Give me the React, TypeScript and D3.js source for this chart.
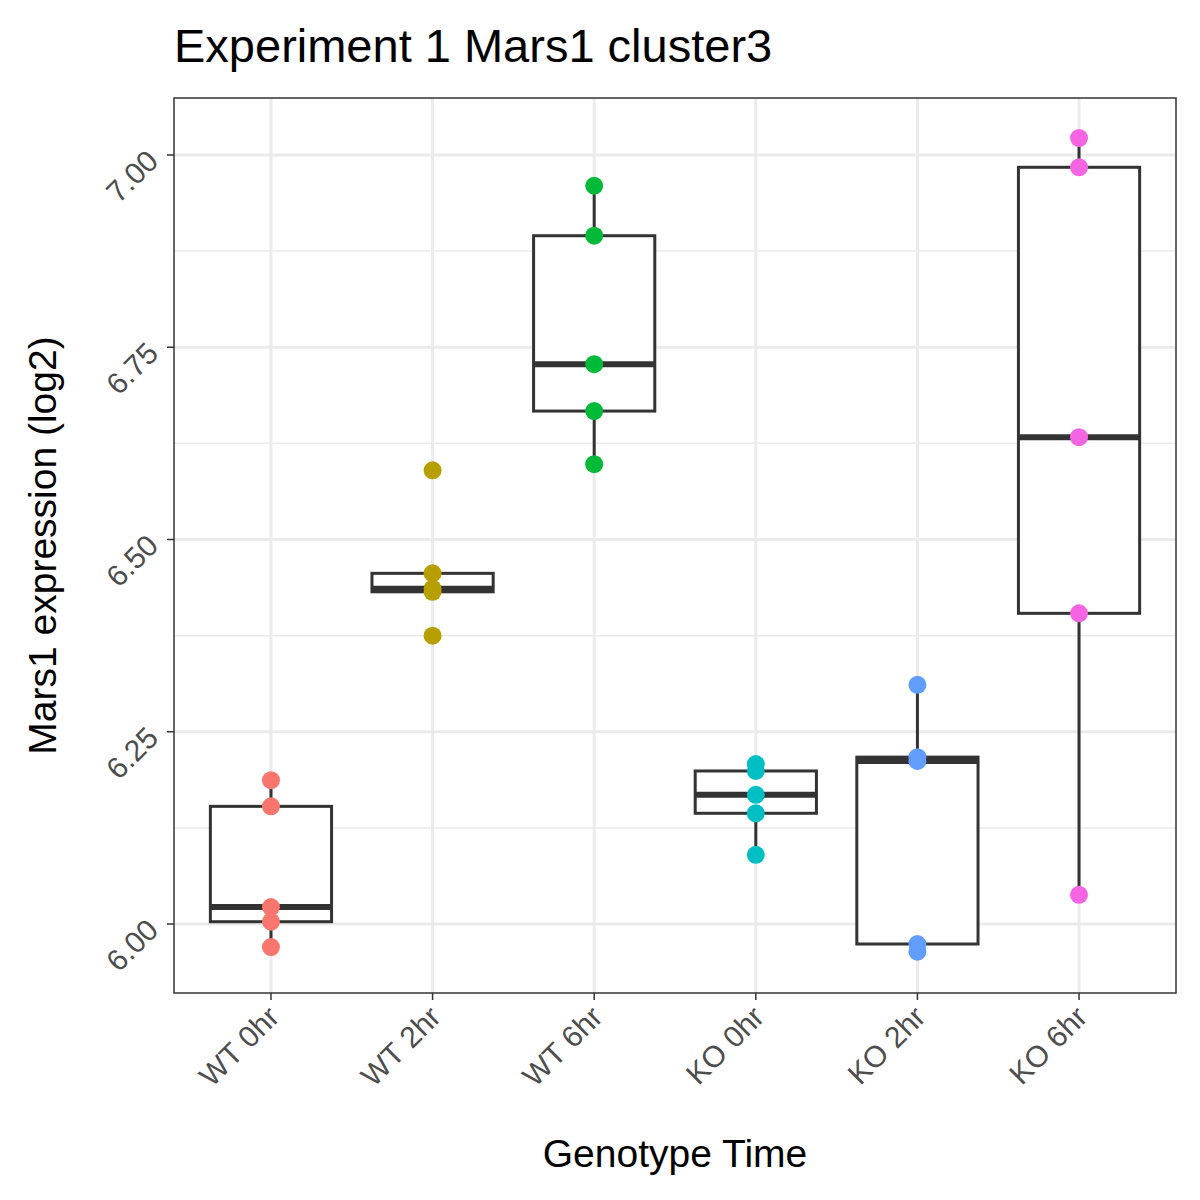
import * as d3 from "d3";

const groups = ["WT 0hr", "WT 2hr", "WT 6hr", "KO 0hr", "KO 2hr", "KO 6hr"];
const colors = ["#F8766D", "#B79F00", "#00BA38", "#00BFC4", "#619CFF", "#F564E3"];
const values = [
  [6.187, 6.153, 6.022, 6.003, 5.970],
  [6.590, 6.456, 6.436, 6.432, 6.375],
  [6.960, 6.895, 6.728, 6.667, 6.598],
  [6.208, 6.199, 6.168, 6.144, 6.090],
  [6.311, 6.217, 6.212, 5.974, 5.964],
  [7.022, 6.984, 6.633, 6.404, 6.038],
];
const yTicks = [6.0, 6.25, 6.5, 6.75, 7.0];
const yMinor = [6.125, 6.375, 6.625, 6.875];

const W = 1200, H = 1200;
const m = { left: 174, right: 24, top: 98, bottom: 207 };

function stats(v: number[]) {
  const s = [...v].sort(d3.ascending);
  const q1 = d3.quantile(s, 0.25)!, med = d3.quantile(s, 0.5)!, q3 = d3.quantile(s, 0.75)!;
  const iqr = q3 - q1;
  const lo = d3.min(s.filter((d) => d >= q1 - 1.5 * iqr))!;
  const hi = d3.max(s.filter((d) => d <= q3 + 1.5 * iqr))!;
  return { q1, med, q3, lo, hi };
}

export default function App() {
  const x = d3.scalePoint().domain(groups).range([m.left, W - m.right]).padding(0.6);
  const y = d3.scaleLinear().domain([5.9103, 7.0741]).range([H - m.bottom, m.top]);
  const bw = x.step() * 0.75;
  const cx = (g: string) => x(g)!;
  const gray = "#333333";
  return (
    <svg width={W} height={H} style={{ position: "absolute", left: 0, top: 0 }} fontFamily="Liberation Sans, Arial, sans-serif">
      <rect x={0} y={0} width={W} height={H} fill="white" />
      {yMinor.map((t) => (
        <line key={"n" + t} x1={m.left} x2={W - m.right} y1={y(t)} y2={y(t)} stroke="#EBEBEB" strokeWidth={1.5} />
      ))}
      {yTicks.map((t) => (
        <line key={"j" + t} x1={m.left} x2={W - m.right} y1={y(t)} y2={y(t)} stroke="#EBEBEB" strokeWidth={3} />
      ))}
      {groups.map((g) => (
        <line key={"v" + g} x1={cx(g)} x2={cx(g)} y1={m.top} y2={H - m.bottom} stroke="#EBEBEB" strokeWidth={3} />
      ))}
      {groups.map((g, i) => {
        const s = stats(values[i]);
        const c = cx(g);
        return (
          <g key={g}>
            <line x1={c} x2={c} y1={y(s.hi)} y2={y(s.q3)} stroke={gray} strokeWidth={3} />
            <line x1={c} x2={c} y1={y(s.q1)} y2={y(s.lo)} stroke={gray} strokeWidth={3} />
            <rect x={c - bw / 2} y={y(s.q3)} width={bw} height={y(s.q1) - y(s.q3)} fill="white" stroke={gray} strokeWidth={3} />
            <line x1={c - bw / 2} x2={c + bw / 2} y1={y(s.med)} y2={y(s.med)} stroke={gray} strokeWidth={6} />
            {values[i].map((v, k) => (
              <circle key={k} cx={c} cy={y(v)} r={9} fill={colors[i]} />
            ))}
          </g>
        );
      })}
      <rect x={m.left} y={m.top} width={W - m.left - m.right} height={H - m.top - m.bottom} fill="none" stroke="#333333" strokeWidth={1.5} />
      {yTicks.map((t) => (
        <g key={"yt" + t}>
          <line x1={m.left - 7} x2={m.left} y1={y(t)} y2={y(t)} stroke="#333333" strokeWidth={1.5} />
          <text transform={`translate(${m.left - 14},${y(t) + 8}) rotate(-45)`} textAnchor="end" fontSize={30} fill="#4D4D4D">
            {t.toFixed(2)}
          </text>
        </g>
      ))}
      {groups.map((g) => (
        <g key={"xt" + g}>
          <line x1={cx(g)} x2={cx(g)} y1={H - m.bottom} y2={H - m.bottom + 7} stroke="#333333" strokeWidth={1.5} />
          <text transform={`translate(${cx(g) + 10},${H - m.bottom + 26}) rotate(-45)`} textAnchor="end" fontSize={30} fill="#4D4D4D">
            {g}
          </text>
        </g>
      ))}
      <text x={(m.left + W - m.right) / 2} y={1167} textAnchor="middle" fontSize={39} fill="black">Genotype Time</text>
      <text transform={`translate(56,${(m.top + H - m.bottom) / 2}) rotate(-90)`} textAnchor="middle" fontSize={39} fill="black">
        Mars1 expression (log2)
      </text>
      <text x={174} y={62} fontSize={47} fill="black">Experiment 1 Mars1 cluster3</text>
    </svg>
  );
}
